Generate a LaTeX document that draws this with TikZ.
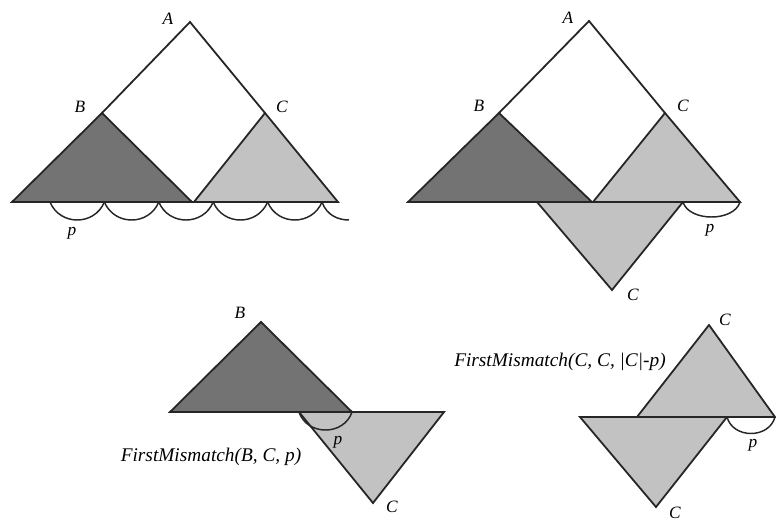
\documentclass[tikz,border=0pt]{standalone}
\usepackage{fontspec}
\setmainfont{Liberation Serif}
\begin{document}
\begin{tikzpicture}[x=0.75pt,y=-0.75pt,line width=1.35pt,line join=miter]
 \tikzset{dark/.style={fill=black!55,draw=black!85},
   light/.style={fill=black!24,draw=black!85},
   edge/.style={draw=black!85},
   lab/.style={font=\fontsize{13}{15}\selectfont\itshape,inner sep=0pt},
   call/.style={font=\fontsize{14.5}{17}\selectfont\itshape,inner sep=0pt}}
 \useasboundingbox (0,0) rectangle (776,522);
 % top left: A with children B and C
 \coordinate (A1) at (190,22);
 \coordinate (B1) at (102,113);
 \coordinate (C1) at (265,113);
 \coordinate (M1) at (192,202);
 \coordinate (N1) at (194,202);
 \coordinate (L1) at (12,202);
 \coordinate (R1) at (338,202);
 \filldraw[dark] (B1)--(L1)--(M1)--cycle;
 \filldraw[light] (C1)--(N1)--(R1)--cycle;
 \draw[edge] (B1)--(A1)--(C1);
 \draw[edge] (L1)--(R1);
 \foreach \x in {50,104.4,158.8,213.2,267.6}{%
   \draw[edge,line width=1.1pt] (\x,202) .. controls +(10,24) and +(-10,24) .. ({\x+54.4},202);
 }
 \draw[edge,line width=1.1pt] (322,202) .. controls +(5,14) and +(-10,0) .. (349,220);
 \node[lab] (la1) at (168,19) {A};
 \node[lab] (lb1) at (80,107) {B};
 \node[lab] (lc1) at (282,107) {C};
 \node[lab] (lp1) at (72,233) {p};
 % top right: C shifted under B
 \coordinate (A2) at (589,21);
 \coordinate (B2) at (499,113);
 \coordinate (C2) at (665,113);
 \coordinate (M2) at (592,202);
 \coordinate (N2) at (593,202);
 \coordinate (L2) at (408,202);
 \coordinate (R2) at (740,202);
 \coordinate (D2) at (537,202);
 \coordinate (E2) at (683,202);
 \coordinate (F2) at (612,290);
 \filldraw[light] (D2)--(E2)--(F2)--cycle;
 \filldraw[dark] (B2)--(L2)--(M2)--cycle;
 \filldraw[light] (C2)--(N2)--(R2)--cycle;
 \draw[edge] (B2)--(A2)--(C2);
 \draw[edge] (L2)--(R2);
 \draw[edge,line width=1.1pt] (E2) .. controls +(6,20) and +(-6,20) .. (R2);
 \node[lab] (la2) at (568,18) {A};
 \node[lab] (lb2) at (479,106) {B};
 \node[lab] (lc2) at (683,106) {C};
 \node[lab] (lc2b) at (633,295) {C};
 \node[lab] (lp2) at (710,230) {p};
 % bottom left
 \coordinate (B3) at (261,322);
 \coordinate (L3) at (170,412);
 \coordinate (R3) at (352,412);
 \coordinate (D3) at (299,412);
 \coordinate (E3) at (444,412);
 \coordinate (F3) at (373,503);
 \filldraw[light] (D3)--(E3)--(F3)--cycle;
 \filldraw[dark] (B3)--(L3)--(R3)--cycle;
 \draw[edge,line width=1.1pt] (D3) .. controls +(8,24) and +(-8,24) .. (R3);
 \node[lab] (lb3) at (240,313) {B};
 \node[lab] (lc3) at (392,507) {C};
 \node[lab] (lp3) at (338,442) {p};
 \node[call] (fm3) at (211,457) {FirstMismatch(B, C, p)};
 % bottom right
 \coordinate (C4) at (709,325);
 \coordinate (L4) at (637,417);
 \coordinate (R4) at (775,417);
 \coordinate (D4) at (580,417);
 \coordinate (E4) at (727,417);
 \coordinate (F4) at (656,507);
 \filldraw[light] (D4)--(E4)--(F4)--cycle;
 \filldraw[light] (C4)--(L4)--(R4)--cycle;
 \draw[edge,line width=1.1pt] (E4) .. controls +(6,22) and +(-6,22) .. (R4);
 \node[lab] (lc4) at (725,320) {C};
 \node[lab] (lc4b) at (675,513) {C};
 \node[lab] (lp4) at (753,445) {p};
 \node[call] (fm4) at (560,362) {FirstMismatch(C, C, |C|-p)};
\end{tikzpicture}
\end{document}
